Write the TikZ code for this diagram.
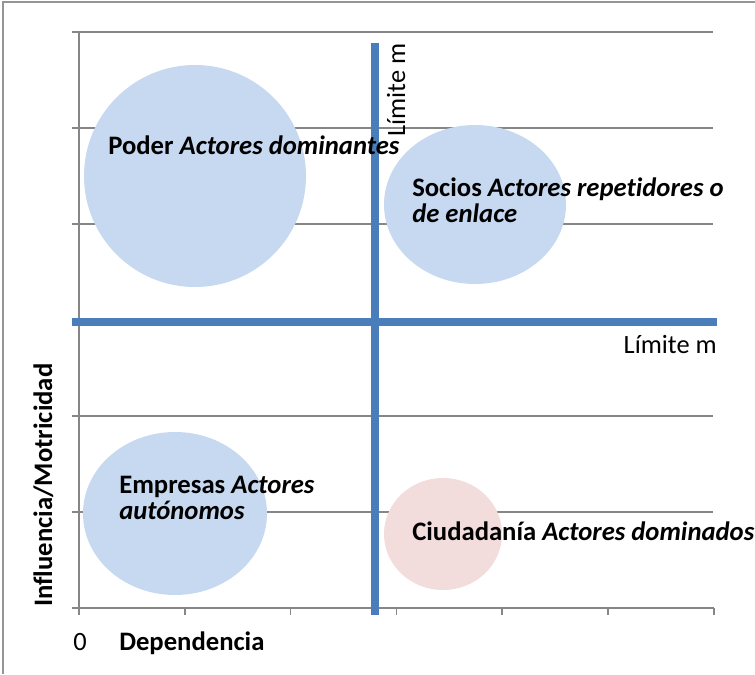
\documentclass[tikz,border=0pt]{standalone}
\usepackage{fontspec}
\setmainfont[Ligatures=NoCommon]{Carlito}
\usetikzlibrary{positioning, shapes.geometric}
\definecolor{limblue}{RGB}{74,126,187}
\definecolor{bubble}{RGB}{198,217,240}
\definecolor{bubblered}{RGB}{242,220,220}
\definecolor{gridgray}{RGB}{134,134,134}
\definecolor{framegray}{RGB}{150,150,150}
\tikzstyle{gridline}=[draw=gridgray, line width=1.1pt]
\tikzstyle{limit}=[draw=limblue, line width=6pt]
\tikzstyle{actor}=[ellipse, fill=bubble, inner sep=0pt]
\tikzstyle{actortext}=[font=\bfseries\fontsize{20}{19.5}\selectfont, anchor=base west, align=left, inner sep=0pt]
\tikzstyle{axistext}=[font=\fontsize{19.8}{19.5}\selectfont, inner sep=0pt]

\begin{document}
\begin{tikzpicture}[x=0.75pt, y=-0.75pt]
            %Chart of actors: dependencia vs influencia
            \useasboundingbox (0,0) rectangle (755,674);
            \draw[framegray, line width=0.8pt] (3,674) -- (3,2) -- (755,2);
            \foreach \k in {0,...,5}{
                \pgfmathsetmacro\yy{32+96*\k}
                \draw[gridline] (72,\yy) -- (713,\yy);
            }
            \draw[gridline] (72,608) -- (714,608);
            \draw[gridline] (79,32) -- (79,615);
            \foreach \k in {1,...,6}{
                \pgfmathsetmacro\xx{79+105.8*\k}
                \draw[gridline] (\xx,608) -- (\xx,615);
            }
            % bubbles
            \node[actor, minimum width=166.5pt, minimum height=166.5pt](poder) at (195,176){};
            \node[actor, minimum width=136.5pt, minimum height=119.25pt](socios) at (475,204.5){};
            \node[actor, minimum width=138pt, minimum height=122.25pt](empresas) at (175,513.5){};
            \node[actor, fill=bubblered, minimum width=88.5pt, minimum height=84pt](ciudadania) at (443,534){};
            % limits
            \coordinate (vtop) at (375,43);
            \coordinate (vbot) at (375,615);
            \coordinate (hleft) at (72,322);
            \coordinate (hright) at (717,322);
            \draw[limit] (vtop) -- (vbot);
            \draw[limit] (hleft) -- (hright);
            % texts
            \node[actortext](tpoder) at (108,154){Poder \textit{Actores dominantes}};
            \node[actortext](tsocios) at (412,222){Socios \textit{Actores repetidores o}\\\textit{de enlace}};
            \node[actortext](tempresas) at (119,519){Empresas \textit{Actores}\\\textit{autónomos}};
            \node[actortext](tciudad) at (412,540){Ciudadanía \textit{Actores dominados}};
            \node[axistext, anchor=base west, rotate=90](limv) at (405,137){Límite m};
            \node[axistext, anchor=base east](limh) at (717,353){Límite m};
            \node[axistext, anchor=base west](cero) at (73,650){0};
            \node[actortext](dep) at (119,650){Dependencia};
            \node[actortext, rotate=90](infl) at (52,607){Influencia/Motricidad};
\end{tikzpicture}
\end{document}
